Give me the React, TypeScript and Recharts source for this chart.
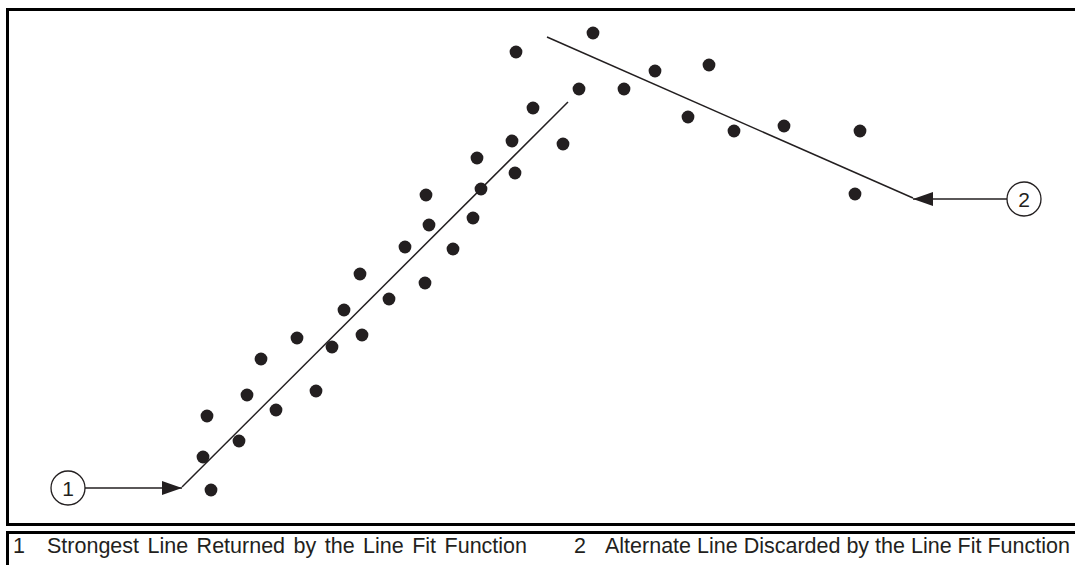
import { ScatterChart, Scatter, XAxis, YAxis } from 'recharts';

// sample points (x across, y up from the bottom edge)
const pointX = [211, 203, 207, 239, 247, 276, 261, 316, 297, 332, 344, 362, 360, 389, 405, 425, 429, 426, 453, 473, 481, 477, 515, 512, 533, 563, 579, 516, 593, 624, 655, 709, 688, 734, 784, 860, 855];
const pointY = [75, 108, 149, 124, 170, 155, 206, 174, 227, 218, 255, 230, 291, 266, 318, 282, 340, 370, 316, 347, 376, 407, 392, 424, 457, 421, 476, 513, 532, 476, 494, 500, 448, 434, 439, 434, 371];

// fitted lines (end points)
const strongestLine = [
  { x: 182, y: 78 },
  { x: 568, y: 463 },
];
const alternateLine = [
  { x: 547, y: 528 },
  { x: 913, y: 367 },
];

// callouts: numbered bubble and where the arrow points to
const calloutLabels = ['1', '2'];
const calloutBubbleX = [68, 1024];
const calloutTipX = [182, 913];
const calloutY = [77, 366];

const points = pointX.map((x, i) => ({ x, y: pointY[i] }));
const bubbles = calloutLabels.map((label, i) => ({ x: calloutBubbleX[i], y: calloutY[i], label }));
const tips = calloutLabels.map((label, i) => ({
  x: calloutTipX[i],
  y: calloutY[i],
  dir: calloutTipX[i] > calloutBubbleX[i] ? 1 : -1,
}));
const connectors = calloutLabels.map((_, i) => [
  { x: calloutBubbleX[i], y: calloutY[i] },
  { x: calloutTipX[i], y: calloutY[i] },
]);

const INK = '#231f20';
const FONT = '"Liberation Sans", Arial, Helvetica, sans-serif';

const Dot = (p: any) => <circle cx={p.cx} cy={p.cy} r={6.4} fill={INK} />;
const Empty = () => <g />;

const Bubble = (p: any) => (
  <g>
    <circle cx={p.cx} cy={p.cy} r={17} fill="#fff" stroke={INK} strokeWidth={1.3} />
    <text x={p.cx} y={p.cy + 7.5} textAnchor="middle" fontSize={21} fontFamily={FONT} fill={INK}>
      {p.payload.label}
    </text>
  </g>
);

const Arrowhead = (p: any) => {
  const d = p.payload.dir;
  const bx = p.cx - d * 20;
  return <polygon points={`${p.cx},${p.cy} ${bx},${p.cy - 7} ${bx},${p.cy + 7}`} fill={INK} />;
};

const captionStyle = {
  position: 'absolute' as const,
  top: 536,
  fontFamily: FONT,
  fontSize: 21.5,
  lineHeight: '21px',
  color: INK,
  whiteSpace: 'nowrap' as const,
};

export default function App() {
  return (
    <div style={{ position: 'fixed', left: 0, top: 0, width: 1075, height: 565, overflow: 'hidden', background: '#fff' }}>
      {/* figure frame */}
      <div
        style={{
          position: 'absolute',
          left: 6,
          top: 8,
          width: 1069,
          height: 518,
          boxSizing: 'border-box',
          borderTop: '3px solid #000',
          borderLeft: '3px solid #000',
          borderBottom: '3px solid #000',
        }}
      />
      {/* caption row */}
      <div
        style={{
          position: 'absolute',
          left: 6,
          top: 531,
          width: 1069,
          height: 40,
          boxSizing: 'border-box',
          borderTop: '3px solid #000',
          borderLeft: '3px solid #000',
        }}
      />
      <span style={{ ...captionStyle, left: 13 }}>1</span>
      <span style={{ ...captionStyle, left: 47, wordSpacing: 2.5 }}>Strongest Line Returned by the Line Fit Function</span>
      <span style={{ ...captionStyle, left: 574 }}>2</span>
      <span style={{ ...captionStyle, left: 605 }}>Alternate Line Discarded by the Line Fit Function</span>

      <div style={{ position: 'absolute', left: 0, top: 0 }}>
        <ScatterChart width={1075} height={565} margin={{ top: 0, right: 0, bottom: 0, left: 0 }}>
          <XAxis type="number" dataKey="x" domain={[0, 1075]} hide />
          <YAxis type="number" dataKey="y" domain={[0, 565]} hide />
          <Scatter data={strongestLine} line={{ stroke: INK, strokeWidth: 1.5 }} shape={Empty} isAnimationActive={false} />
          <Scatter data={alternateLine} line={{ stroke: INK, strokeWidth: 1.5 }} shape={Empty} isAnimationActive={false} />
          {connectors.map((c, i) => (
            <Scatter key={i} data={c} line={{ stroke: INK, strokeWidth: 1.3 }} shape={Empty} isAnimationActive={false} />
          ))}
          <Scatter data={points} shape={Dot} isAnimationActive={false} />
          <Scatter data={bubbles} shape={Bubble} isAnimationActive={false} />
          <Scatter data={tips} shape={Arrowhead} isAnimationActive={false} />
        </ScatterChart>
      </div>
    </div>
  );
}
